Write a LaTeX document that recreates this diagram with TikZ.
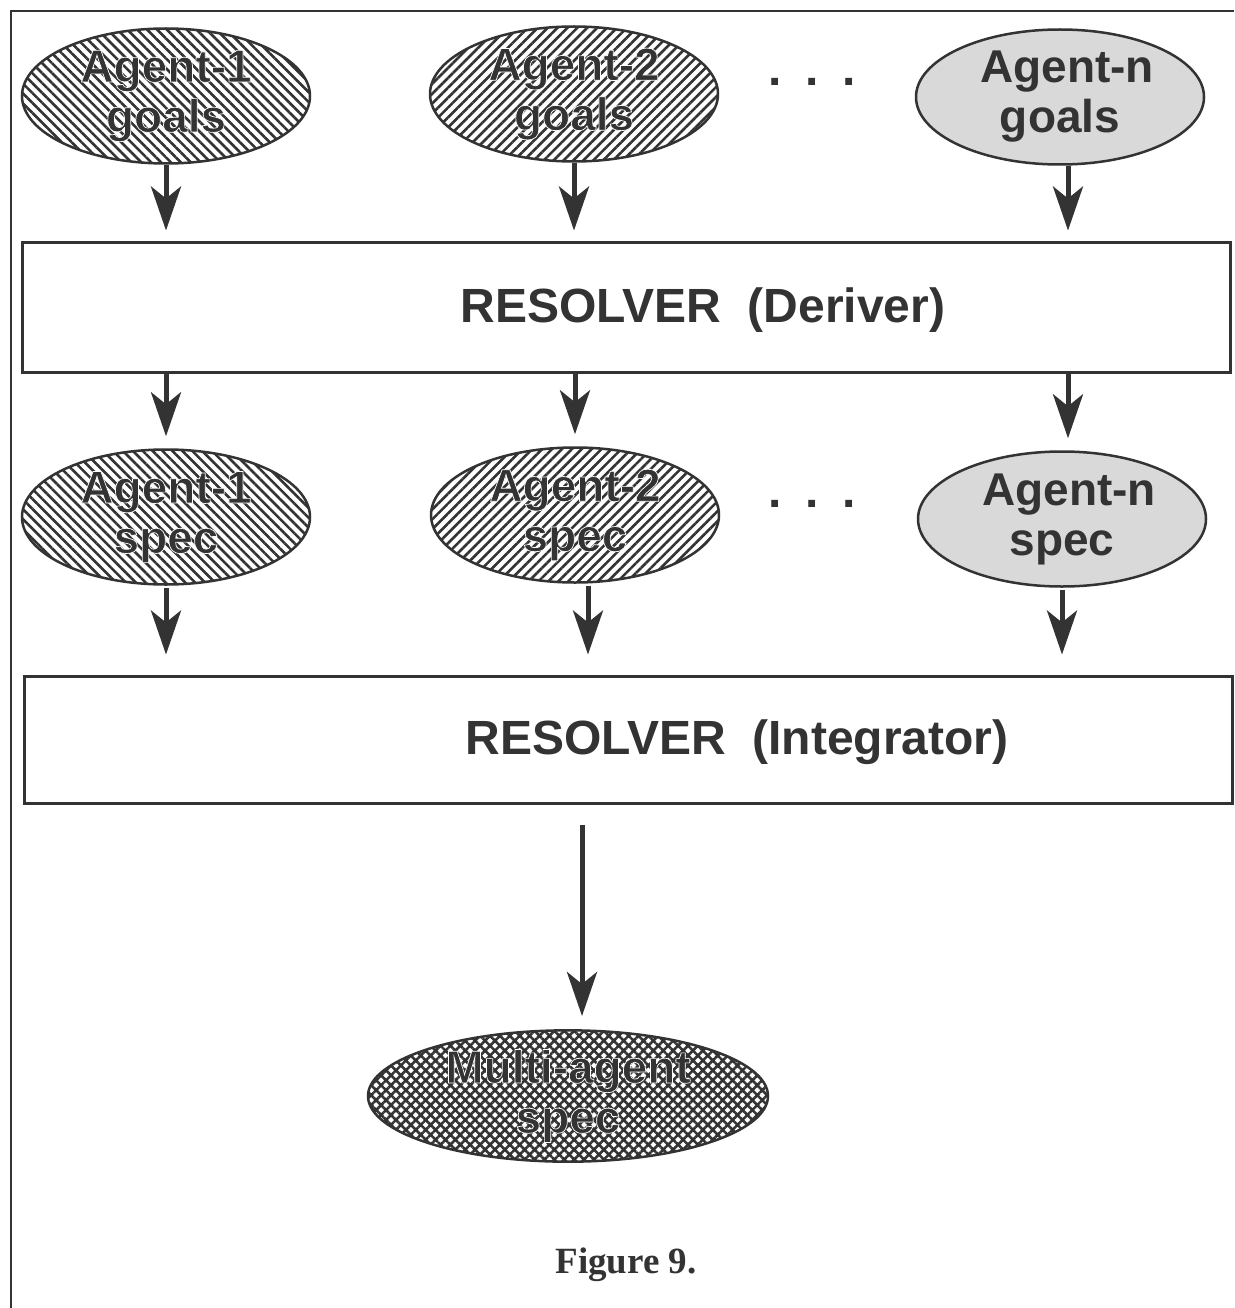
\documentclass[tikz,border=0pt]{standalone}
\usepackage{fontspec}
\setmainfont{Liberation Sans}
\newfontfamily\figfont{Liberation Serif}
\usetikzlibrary{shapes.geometric,arrows.meta,patterns.meta}
\definecolor{ink}{HTML}{333333}
\tikzset{
  blob/.style={ellipse, draw=ink, line width=2.5pt, minimum width=288pt, minimum height=135pt,
    inner sep=0pt, align=center, font=\fontsize{46}{50}\selectfont\bfseries, text=ink},
  hatchback/.style={blob, pattern={Lines[angle=-45,distance=7pt,line width=2.6pt]}, pattern color=ink},
  hatchfwd/.style={blob, pattern={Lines[angle=45,distance=7pt,line width=2.6pt]}, pattern color=ink},
  greyblob/.style={blob, fill=black!15},
  crossblob/.style={blob, minimum width=400pt, minimum height=127pt,
    pattern={Hatch[angle=45,distance=7pt,line width=2.6pt]}, pattern color=ink},
  resbox/.style={rectangle, draw=ink, line width=3pt, minimum width=1208pt, inner sep=0pt},
  boxtext/.style={font=\fontsize{48}{52}\selectfont\bfseries, text=ink, inner sep=0pt},
  dotsrow/.style={font=\fontsize{48}{52}\selectfont\bfseries, text=ink, inner sep=0pt, anchor=base},
  arr/.style={draw=ink, line width=5pt, -{Stealth[length=44pt,width=30pt,inset=12pt]}},
  frameline/.style={draw=ink, line width=2.5pt}
}
% white outlined text: fill and stroke in one pass (text render mode 2)
\newcommand{\halo}[1]{\special{pdf:literal direct 2 Tr 1 1 1 RG 0.7 w}#1\special{pdf:literal direct 0 Tr}}
\begin{document}
\begin{tikzpicture}[x=1pt,y=-1pt]
\useasboundingbox (0,0) rectangle (1234,1308);
\fill[white] (0,0) rectangle (1234,1308);
% frame (left and top edges)
\coordinate (fbl) at (11,1308);
\coordinate (ftl) at (11,11);
\coordinate (ftr) at (1234,11);
\draw[frameline] (fbl) -- (ftl) -- (ftr);

% goals row
\node[hatchback] (g1) at (166,96) {\halo{Agent-1\\goals}};
\node[hatchfwd]  (g2) at (574,94) {\halo{Agent-2\\goals}};
\node[greyblob]  (gn) at (1060,97) {\hspace*{14pt}Agent-n\\goals};
\node[dotsrow] (d1) at (812,86) {.\hspace{24pt}.\hspace{24pt}.};

% deriver
\node[resbox, minimum height=130pt] (der) at (626,307) {};
\node[boxtext] (dert) at (703,310) {RESOLVER\ \ (Deriver)};

% spec row
\node[hatchback] (s1) at (166,517) {\halo{Agent-1\\spec}};
\node[hatchfwd]  (s2) at (575,515) {\halo{Agent-2\\spec}};
\node[greyblob]  (sn) at (1062,519) {\hspace*{14pt}Agent-n\\spec};
\node[dotsrow] (d2) at (812,507) {.\hspace{24pt}.\hspace{24pt}.};

% integrator
\node[resbox, minimum height=127pt] (int) at (628,739.5) {};
\node[boxtext] (intt) at (737,742) {RESOLVER\ \ (Integrator)};

% result
\node[crossblob] (ma) at (568,1096) {\halo{Multi-agent\\spec}};

\node[font=\figfont\fontsize{37}{40}\selectfont\bfseries, text=ink] (cap) at (626,1265) {Figure 9.};

% arrows goals -> deriver
\draw[arr, shorten >=10pt] (g1.south) -- (g1.south |- der.north);
\draw[arr, shorten >=10pt] (g2.south) -- (g2.south |- der.north);
\draw[arr, shorten >=10pt] ([xshift=8pt]gn.south) -- ([xshift=8pt]gn.south |- der.north);

% arrows deriver -> specs
\draw[arr, shorten >=12pt] (der.south -| s1.north) -- (s1.north);
\draw[arr, shorten >=12pt] (der.south -| s2.north) -- (s2.north);
\draw[arr, shorten >=12pt] ([xshift=6pt]der.south -| sn.north) -- ([xshift=6pt]sn.north);

% arrows specs -> integrator
\draw[arr, shorten <=2pt, shorten >=20pt] (s1.south) -- (s1.south |- int.north);
\draw[arr, shorten <=2pt, shorten >=20pt] ([xshift=13pt]s2.south) -- ([xshift=13pt]s2.south |- int.north);
\draw[arr, shorten <=2pt, shorten >=20pt] (sn.south) -- (sn.south |- int.north);

% integrator -> result
\draw[arr, shorten <=20pt, shorten >=13pt] ([xshift=14pt]int.south -| ma.north) -- ([xshift=14pt]ma.north);
\end{tikzpicture}
\end{document}
